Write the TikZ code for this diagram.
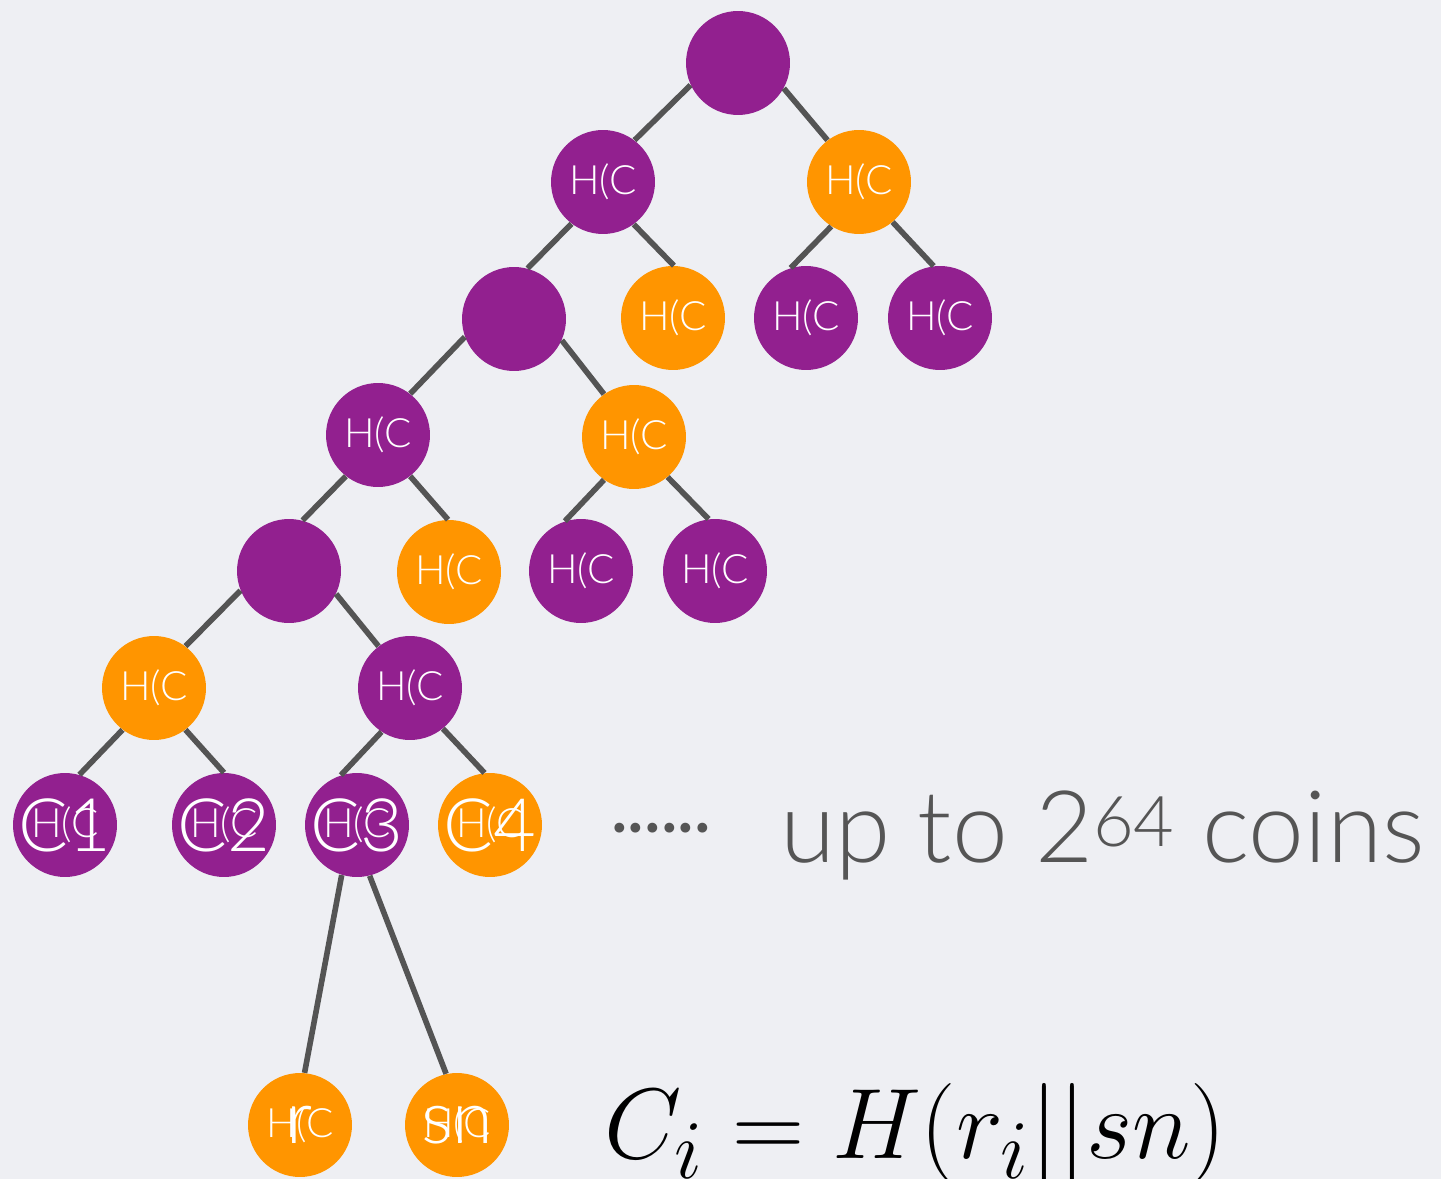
\documentclass[tikz,border=0pt]{standalone}
\usepackage{fontspec}
\setmainfont{Lato}[UprightFont={* Light}]
\definecolor{treepurple}{HTML}{92208F}
\definecolor{treeorange}{HTML}{FF9500}
\definecolor{edgegray}{HTML}{545454}
\definecolor{bggray}{HTML}{EEEFF3}
\definecolor{txtgray}{HTML}{555555}
\begin{document}
\begin{tikzpicture}[x=0.02cm,y=-0.02cm,
  hnode/.style={circle,minimum size=2.08cm,inner sep=0pt,text=white,font=\fontsize{23}{24}\selectfont},
  purp/.style={hnode,fill=treepurple},
  orng/.style={hnode,fill=treeorange},
  bigl/.style={text=white,inner sep=0pt,font=\fontsize{42}{44}\selectfont}]
\fill[bggray] (0,0) rectangle (1441,1179);
\useasboundingbox (0,0) rectangle (1441,1179);
% levels of the tree
\node[purp] (r) at (738,63) {};
\node[purp] (a) at (603,182) {H(C};\node[orng] (b) at (859,182) {H(C};
\node[purp] (aa) at (514,319) {};\node[orng] (ab) at (673,318) {H(C};
\node[purp] (ba) at (806,318) {H(C};\node[purp] (bb) at (940,318) {H(C};
\node[purp] (aaa) at (378,435) {H(C};\node[orng] (aab) at (634,437) {H(C};
\node[purp] (x) at (289,571) {};\node[orng] (xb) at (449,572) {H(C};
\node[purp] (aaba) at (581,571) {H(C};\node[purp] (aabb) at (715,571) {H(C};
\node[orng] (xa) at (154,688) {H(C};\node[purp] (xc) at (410,688) {H(C};
% coins
\node[purp,label={[bigl]center:C1}] (c1) at (65,825) {H(C};
\node[purp,label={[bigl]center:C2}] (c2) at (224,825) {H(C};
\node[purp,label={[bigl]center:C3}] (c3) at (357,825) {H(C};
\node[orng,label={[bigl]center:C4}] (c4) at (490,825) {H(C};
\node[orng,label={[bigl]center:r}] (ri) at (300,1125) {H(C};
\node[orng,label={[bigl]center:sn}] (sn) at (457,1125) {H(C};
\draw[edgegray,line width=3.2pt]
  (r.-155)--(a.53) (r.-29)--(b.127)
  (a.-127)--(aa.75) (a.-54)--(ab.89) (b.-122)--(ba.107) (b.-50)--(bb.97)
  (aa.-160)--(aaa.52) (aa.-24)--(aab.125)
  (aaa.-128)--(x.75) (aaa.-52)--(xb.91) (aab.-125)--(aaba.108) (aab.-50)--(aabb.97)
  (x.-158)--(xa.53) (x.-26)--(xc.127)
  (xa.-127)--(c1.74) (xa.-53)--(c2.90) (xc.-123)--(c3.108) (xc.-51)--(c4.96)
  (c3.-107)--(ri.85) (c3.-76)--(sn.102);
\node[text=txtgray,font=\fontsize{40}{40}\bfseries] (dots) at (661,828) {......};
\node[anchor=base west,inner sep=0pt,text=txtgray,font=\fontsize{57}{60}\selectfont] (up) at (780,862) {up to 2\textsuperscript{64} coins};
\node[anchor=base west,inner sep=0pt,font=\fontsize{24.88}{30}\selectfont] (eq) at (604,1158) {\scalebox{2.29}{$C_i = H(r_i||sn)$}};
\end{tikzpicture}
\end{document}
